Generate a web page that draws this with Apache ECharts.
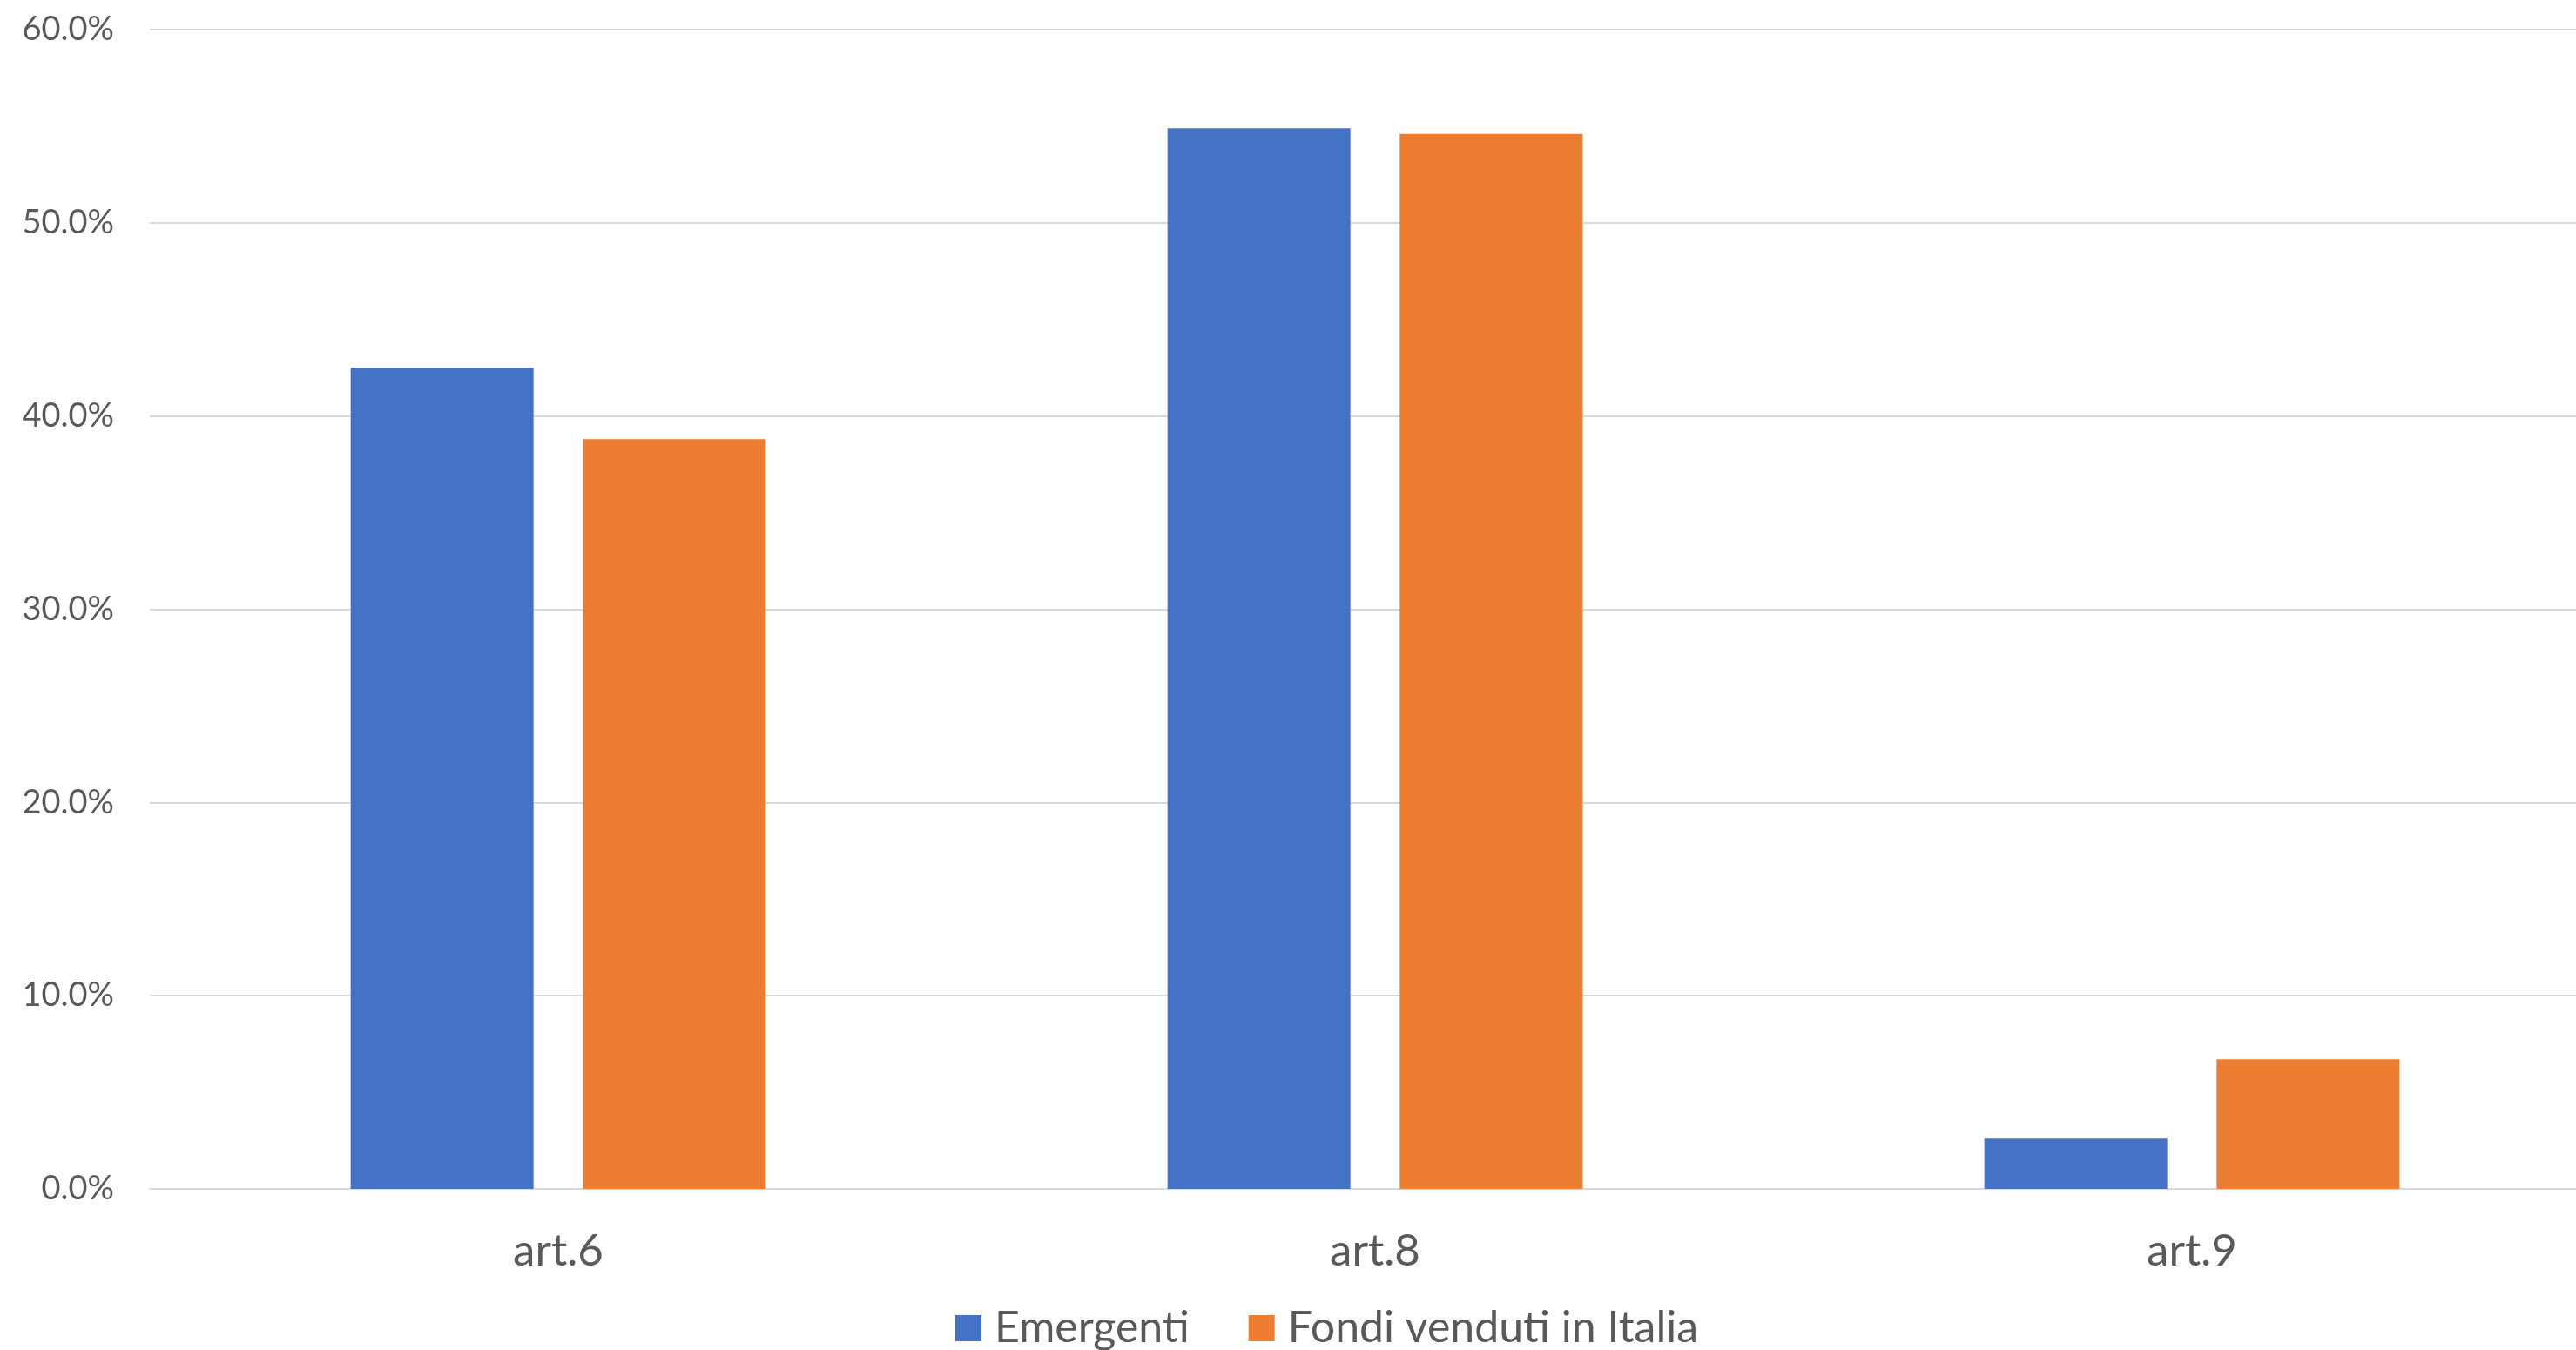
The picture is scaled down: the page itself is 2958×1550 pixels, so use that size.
<!DOCTYPE html>
<html>
<head>
<meta charset="utf-8">
<script src="https://cdn.jsdelivr.net/npm/echarts@6/dist/echarts.min.js"></script>
<style>
html,body{margin:0;padding:0;background:#fff;overflow:hidden;width:2958px;height:1550px;}
#chart{width:2986px;height:1550px;}
</style>
</head>
<body>
<div id="chart"></div>
<script>
const categories = ['art.6', 'art.8', 'art.9'];
const seriesNames = ['Emergenti', 'Fondi venduti in Italia'];
const emergenti = [42.5, 54.9, 2.6];
const fondiItalia = [38.8, 54.6, 6.7];
const yTicks = [0, 10, 20, 30, 40, 50, 60];

const FONT = 'Lato';
const chart = echarts.init(document.getElementById('chart'), null, {renderer: 'canvas'});
chart.setOption({
  animation: false,
  backgroundColor: '#ffffff',
  grid: {left: 172, right: 0, top: 34, bottom: 185, containLabel: false},
  legend: {
    left: 1092, top: 1492,
    icon: 'rect', itemWidth: 30, itemHeight: 30, itemGap: 68,
    textStyle: {fontFamily: FONT, fontSize: 50, color: '#595959', lineHeight: 56, padding: [0, 0, 0, 10]},
    data: seriesNames
  },
  xAxis: {
    type: 'category',
    data: categories,
    axisLine: {show: true, lineStyle: {color: '#D9D9D9', width: 2}},
    axisTick: {show: false},
    axisLabel: {fontFamily: FONT, fontSize: 51, color: '#595959', margin: 46}
  },
  yAxis: {
    type: 'value',
    min: yTicks[0], max: yTicks[yTicks.length - 1], interval: 10,
    axisLine: {show: false},
    axisTick: {show: false},
    splitLine: {lineStyle: {color: '#D9D9D9', width: 2}},
    axisLabel: {fontFamily: FONT, fontSize: 38, color: '#595959', margin: 41,
      formatter: v => v.toFixed(1) + '%'}
  },
  series: [
    {name: seriesNames[0], type: 'bar', data: emergenti, barWidth: 210, barGap: '27%',
      itemStyle: {color: '#4472C4'}},
    {name: seriesNames[1], type: 'bar', data: fondiItalia, barWidth: 210, barGap: '27%',
      itemStyle: {color: '#ED7D31'}}
  ]
});
</script>
</body>
</html>
